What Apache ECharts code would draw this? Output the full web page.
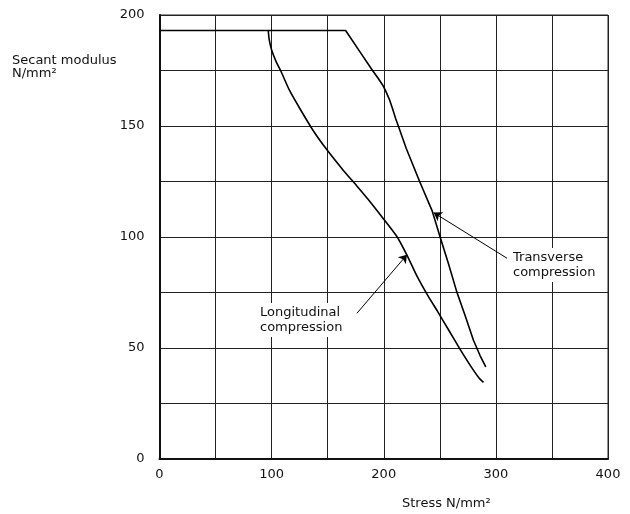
<!DOCTYPE html>
<html>
<head>
<meta charset="utf-8">
<script src="https://cdn.jsdelivr.net/npm/echarts@6/dist/echarts.min.js"></script>
<style>html,body{margin:0;padding:0;background:#fff}#c{width:630px;height:514px}</style>
</head>
<body>
<div id="c"></div>
<script>
// Data
const transverse = [[0,193],[166,193],[180,182.5],[190,175],[195,171.5],[199,168.5],[202,165.5],[205,162],[208,157.5],[210.5,153.5],[213,150],[220,140],[232,125],[243,112],[250,100.5],[258,87.5],[265,75.5],[273,64],[280,53.5],[286,46.5],[291,41.5]];
const longitudinal = [[97,193],[97.8,189],[100,184.2],[104,179],[108,175],[116,166],[125,158],[137,148],[149,139.5],[164,130],[176,123],[186,117],[200,108],[212,100],[221,91.5],[230,82],[240,73],[248,66.5],[258,58],[268,49.5],[278,41.5],[285,36.5],[289,34.5]];
const xTickLabels = [0,100,200,300,400];
const yTickLabels = [0,50,100,150,200];
const yTitle = 'Secant modulus\nN/mm²';
const xTitle = 'Stress N/mm²';
const annTransverse = 'Transverse\ncompression';
const annLongitudinal = 'Longitudinal\ncompression';
const arrowT = [[310,90.4],[244.5,111]];
const arrowL = [[176,65.6],[220.7,92]];

const FONT = '"DejaVu Sans", sans-serif';
const chart = echarts.init(document.getElementById('c'), null, {renderer:'canvas'});
chart.setOption({
  animation:false,
  backgroundColor:'#fff',
  textStyle:{fontFamily:FONT},
  grid:{left:159.5,right:22,top:15,bottom:55,show:true,borderColor:'#222',borderWidth:1},
  xAxis:{type:'value',min:0,max:400,interval:50,
    axisLine:{show:true,lineStyle:{color:'#111',width:2}},
    axisTick:{show:false},
    splitLine:{show:true,lineStyle:{color:'#222',width:1}},
    axisLabel:{color:'#111',fontSize:13,fontFamily:FONT,margin:9,
      formatter:v=>xTickLabels.indexOf(v)>=0?String(v):''}},
  yAxis:{type:'value',min:0,max:200,interval:25,
    axisLine:{show:true,lineStyle:{color:'#111',width:2}},
    axisTick:{show:false},
    splitLine:{show:true,lineStyle:{color:'#222',width:1}},
    axisLabel:{color:'#111',fontSize:13,fontFamily:FONT,margin:15,
      formatter:v=>yTickLabels.indexOf(v)>=0?String(v):''}},
  series:[
    {type:'line',data:transverse,symbol:'none',smooth:false,lineStyle:{color:'#000',width:1.6},z:5},
    {type:'line',data:longitudinal,symbol:'none',smooth:0.2,lineStyle:{color:'#000',width:1.6},z:5},
    {type:'lines',coordinateSystem:'cartesian2d',symbol:['none','arrow'],symbolSize:8,
      lineStyle:{color:'#000',width:1,opacity:1},z:6,
      data:[{coords:arrowT},{coords:arrowL}]}
  ],
  graphic:[
    {type:'text',left:12,top:54,style:{text:yTitle,font:'13px '+FONT,fill:'#111',lineHeight:13}},
    {type:'text',left:402,top:497,style:{text:xTitle,font:'13px '+FONT,fill:'#111'}},
    {type:'text',left:510,top:248,z:10,style:{text:annTransverse,font:'13px '+FONT,fill:'#111',lineHeight:15,backgroundColor:'#fff',padding:[2,3,2,3]}},
    {type:'text',left:257,top:303,z:10,style:{text:annLongitudinal,font:'13px '+FONT,fill:'#111',lineHeight:15,backgroundColor:'#fff',padding:[2,3,2,3]}}
  ]
});
</script>
</body>
</html>
